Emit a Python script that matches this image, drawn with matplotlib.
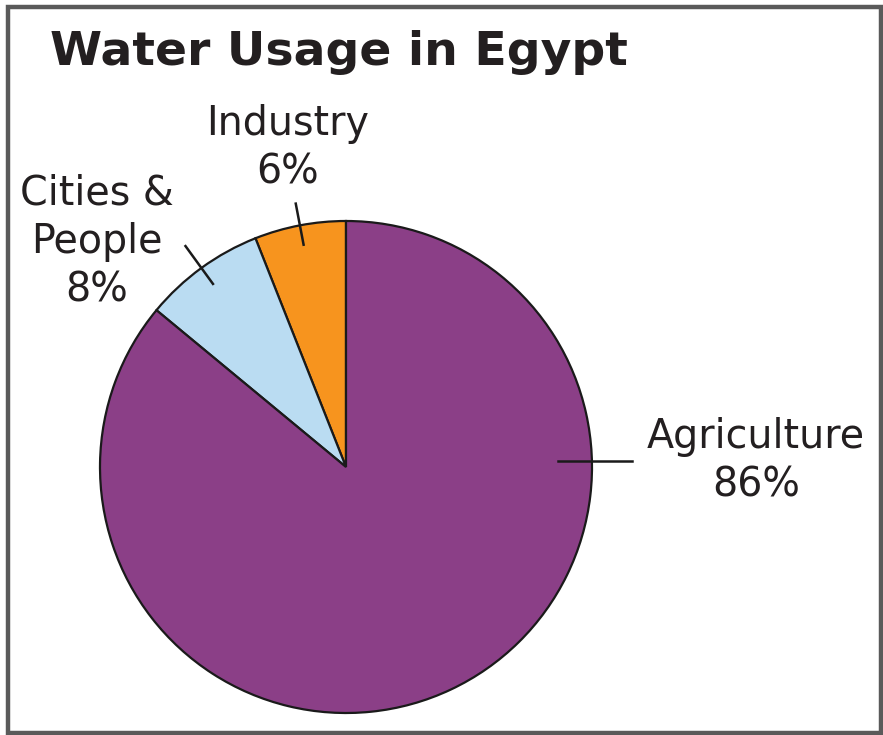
import numpy as np
import matplotlib
matplotlib.use("Agg")
import matplotlib.pyplot as plt
from matplotlib.patches import Rectangle

# Data
categories = ["Agriculture", "Cities &\nPeople", "Industry"]
values = [86, 8, 6]
colors = ["#8B3F87", "#BADCF2", "#F7941E"]

W, H = 883, 735
fig = plt.figure(figsize=(W / 100, H / 100), dpi=100)
fig.patch.set_facecolor("white")

def fx(px):
    return px / W

def fy(py):
    return 1 - py / H

# Pie axes: centre (346,467), radius 246 px
cx, cy, r = 346, 467, 246
ax = fig.add_axes([fx(cx - r), fy(cy + r), 2 * r / W, 2 * r / H])

# Order: Industry counter-clockwise from top, then Cities, then Agriculture
order = [2, 1, 0]
wedges, _ = ax.pie([values[i] for i in order], colors=[colors[i] for i in order],
                   startangle=90, counterclock=True, radius=1, center=(0, 0),
                   wedgeprops=dict(edgecolor="#1a1a1a", linewidth=1.6),
                   frame=False)
for w in wedges:
    w.set_clip_on(False)
ax.axis("off")

# Leader lines
total = sum(values)
angles = {}
start = 90.0
for i in order:
    span = 360 * values[i] / total
    angles[i] = start + span / 2
    start += span
leader_r = {2: (0.92, 1.09), 1: (0.92, 1.11)}
for i, (r0, r1) in leader_r.items():
    t = np.deg2rad(angles[i])
    ax.plot([r0 * np.cos(t), r1 * np.cos(t)], [r0 * np.sin(t), r1 * np.sin(t)],
            color="#1a1a1a", lw=1.8, clip_on=False)
# Agriculture leader: horizontal
ax.plot([0.862, 1.163], [0.0244, 0.0244], color="#1a1a1a", lw=1.8, clip_on=False)
ax.set_xlim(-1, 1)
ax.set_ylim(-1, 1)

txtc = "#231F20"
fs = 28.5
fig.text(fx(288), fy(148), "Industry\n6%", ha="center", va="center",
         fontsize=fs, color=txtc, linespacing=1.28)
fig.text(fx(97), fy(242), "Cities &\nPeople\n8%", ha="center", va="center",
         fontsize=fs, color=txtc, linespacing=1.28)
fig.text(fx(756), fy(461), "Agriculture\n86%", ha="center", va="center",
         fontsize=fs, color=txtc, linespacing=1.28)

fig.text(fx(50), fy(65), "Water Usage in Egypt", ha="left", va="baseline",
         fontsize=34, fontweight="bold", color=txtc)

# Frame
fig.patches.append(Rectangle((fx(8), fy(733)), fx(873), (733 - 7) / H,
                             transform=fig.transFigure, fill=False,
                             edgecolor="#5a5a5a", linewidth=3.2))

fig.savefig("out.png", dpi=100)
